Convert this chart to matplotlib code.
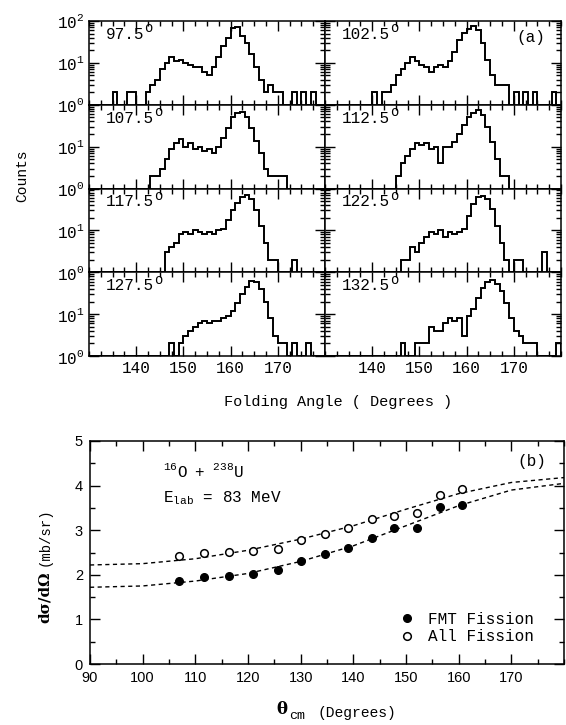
import matplotlib
matplotlib.use("Agg")
import matplotlib.pyplot as plt
from matplotlib.ticker import MultipleLocator, FixedLocator, LogLocator, NullFormatter

MONO = "Liberation Mono"
SANS = "Liberation Sans"
SERIF = "DejaVu Serif"
plt.rcParams["font.family"] = [MONO, "DejaVu Sans"]
plt.rcParams["mathtext.fontset"] = "dejavuserif"

# ---- panel (a): folding-angle spectra, 1-degree bins 130..180 (counts)
BIN_EDGES = list(range(130, 181))
C_975 = [1, 1, 1, 1, 1, 2, 1, 1, 2, 2, 1, 1, 2, 3, 4, 7, 10, 14, 11, 12,
         10, 9, 8, 8, 6, 5, 8, 14, 25, 40, 68, 72, 45, 30, 16, 8, 4, 2, 3, 2,
         2, 1, 1, 2, 1, 2, 1, 2, 1, 1]
C_1025 = [1, 1, 1, 1, 1, 1, 1, 1, 1, 1, 2, 1, 2, 2, 3, 5, 7, 10, 14, 11,
          9, 8, 6, 8, 9, 8, 11, 18, 35, 52, 65, 78, 60, 30, 12, 5, 3, 3, 3, 1,
          2, 1, 2, 1, 2, 1, 1, 1, 2, 1]
C_1075 = [1, 1, 1, 1, 1, 1, 1, 1, 1, 1, 1, 1, 1, 2, 2, 3, 5, 9, 12, 15,
          10, 12, 9, 10, 8, 9, 7, 10, 16, 28, 50, 65, 68, 50, 28, 14, 7, 3, 2, 2,
          2, 2, 1, 1, 1, 1, 1, 1, 1, 1]
C_1125 = [1, 1, 1, 1, 1, 1, 1, 1, 1, 1, 1, 1, 1, 1, 1, 2, 4, 6, 9, 12,
          11, 12, 9, 10, 4, 10, 10, 13, 20, 32, 50, 65, 74, 58, 30, 13, 5, 2, 2, 1,
          1, 1, 1, 1, 1, 1, 1, 1, 1, 1]
C_1175 = [1, 1, 1, 1, 1, 1, 1, 1, 1, 1, 1, 1, 1, 1, 1, 1, 3, 4, 5, 8,
          9, 8, 10, 9, 8, 9, 8, 10, 11, 18, 30, 45, 62, 70, 55, 30, 13, 5, 2, 2,
          1, 1, 1, 2, 1, 1, 1, 1, 1, 1]
C_1225 = [1, 1, 1, 1, 1, 1, 1, 1, 1, 1, 1, 1, 1, 1, 1, 1, 2, 2, 4, 3,
          5, 7, 9, 8, 10, 7, 9, 8, 9, 11, 22, 42, 62, 66, 56, 32, 13, 5, 2, 1,
          2, 2, 1, 1, 1, 1, 3, 1, 1, 1]
C_1275 = [1, 1, 1, 1, 1, 1, 1, 1, 1, 1, 1, 1, 1, 1, 1, 1, 1, 2, 1, 2,
          3, 4, 5, 6, 7, 6, 7, 7, 8, 9, 12, 18, 30, 45, 62, 58, 40, 20, 8, 3,
          2, 2, 1, 2, 1, 1, 2, 1, 1, 1]
C_1325 = [1, 1, 1, 1, 1, 1, 1, 1, 1, 1, 1, 1, 1, 1, 1, 1, 2, 1, 1, 2,
          2, 2, 5, 4, 4, 6, 8, 7, 8, 3, 9, 13, 24, 42, 58, 64, 52, 35, 18, 8,
          4, 3, 2, 2, 2, 1, 1, 1, 1, 2]
LEFT_COL = [("97.5", C_975), ("107.5", C_1075), ("117.5", C_1175), ("127.5", C_1275)]
RIGHT_COL = [("102.5", C_1025), ("112.5", C_1125), ("122.5", C_1225), ("132.5", C_1325)]

# ---- panel (b): angular distributions
THETA = [106.9, 111.6, 116.3, 121.0, 125.7, 130.1, 134.6, 139.0, 143.5, 147.8, 152.1, 156.4, 160.7]
ALL_FISSION = [2.43, 2.49, 2.51, 2.53, 2.58, 2.79, 2.92, 3.04, 3.24, 3.31, 3.39, 3.79, 3.92]
FMT_FISSION = [1.86, 1.96, 1.97, 2.01, 2.10, 2.32, 2.46, 2.60, 2.83, 3.04, 3.04, 3.51, 3.56]
FIT_THETA = [90, 100, 110, 120, 130, 140, 150, 160, 170, 180]
ALL_FIT = [2.22, 2.25, 2.36, 2.55, 2.80, 3.10, 3.47, 3.82, 4.07, 4.18]
FMT_FIT = [1.72, 1.75, 1.86, 2.03, 2.30, 2.65, 3.10, 3.55, 3.90, 4.05]

W, H = 566, 725
fig = plt.figure(figsize=(W / 100, H / 100), dpi=100)
gs = fig.add_gridspec(4, 2, left=89 / W, right=561 / W, top=1 - 21 / H, bottom=1 - 356 / H,
                      wspace=0, hspace=0)

for col, panels in enumerate([LEFT_COL, RIGHT_COL]):
    for row, (ang, counts) in enumerate(panels):
        ax = fig.add_subplot(gs[row, col])
        ax.stairs(counts, BIN_EDGES, baseline=1, color="k", lw=1.4)
        ax.set_yscale("log")
        ax.set_xlim(130, 180)
        ax.set_ylim(1, 100)
        ax.xaxis.set_major_locator(FixedLocator([140, 150, 160, 170]))
        ax.xaxis.set_minor_locator(MultipleLocator(2.5))
        ax.yaxis.set_major_locator(FixedLocator([1, 10, 100]))
        ax.yaxis.set_minor_locator(LogLocator(subs=range(2, 10)))
        ax.yaxis.set_minor_formatter(NullFormatter())
        ax.tick_params(which="both", direction="in", top=True, right=True, width=1)
        ax.tick_params(which="major", length=7, labelsize=11.5)
        ax.tick_params(which="minor", length=3.5)
        if row < 3:
            ax.tick_params(labelbottom=False)
        if col == 0:
            labs = [r"$\mathregular{10^0}$", r"$\mathregular{10^1}$", r"$\mathregular{10^2}$"]
            if row > 0:
                labs[2] = ""
            ax.set_yticklabels(labs)
        else:
            ax.tick_params(labelleft=False)
        for s in ax.spines.values():
            s.set_linewidth(1.1)
        ax.text(0.07, 0.93, ang, transform=ax.transAxes, ha="left", va="top", fontsize=11.5)
        ax.annotate("o", (0.07, 0.93), xycoords="axes fraction",
                    xytext=(len(ang) * 6.9 + 0.5, 4), textcoords="offset points",
                    ha="left", va="top", fontsize=10)
        if col == 1 and row == 0:
            ax.text(0.87, 0.80, "(a)", transform=ax.transAxes, ha="center", va="center",
                    fontsize=11.5)

fig.text(22 / W, 1 - 176 / H, "Counts", rotation=90, ha="center", va="center", fontsize=10.5)
fig.text(338 / W, 1 - 402 / H, "Folding Angle ( Degrees )", ha="center", va="center",
         fontsize=11)

# ---- panel (b)
axb = fig.add_axes([90 / W, 1 - 664 / H, (564 - 90) / W, (664 - 441) / H])
axb.plot(FIT_THETA, ALL_FIT, color="k", lw=1.0, ls=(0, (3, 2.5)))
axb.plot(FIT_THETA, FMT_FIT, color="k", lw=1.0, ls=(0, (3, 2.5)))
axb.plot(THETA, FMT_FISSION, "o", ms=5.5, mfc="k", mec="k", ls="none", label="FMT Fission")
axb.plot(THETA, ALL_FISSION, "o", ms=5.5, mfc="white", mec="k", mew=1.1, ls="none",
         label="All Fission")
axb.set_xlim(90, 180)
axb.set_ylim(0, 5)
axb.xaxis.set_major_locator(FixedLocator([90, 100, 110, 120, 130, 140, 150, 160, 170]))
axb.xaxis.set_minor_locator(MultipleLocator(5))
axb.yaxis.set_major_locator(MultipleLocator(1))
axb.yaxis.set_minor_locator(MultipleLocator(0.5))
axb.tick_params(which="both", direction="in", top=True, right=True, width=1)
axb.tick_params(which="major", length=7, labelsize=10.5, pad=5)
axb.tick_params(which="minor", length=3.5)
for lab in axb.get_xticklabels() + axb.get_yticklabels():
    lab.set_family(SANS)
for s in axb.spines.values():
    s.set_linewidth(1.1)

axb.text(0.154, 0.839, r"$\mathregular{^{16}O\ +\ ^{238}U}$", transform=axb.transAxes,
         ha="left", va="baseline", fontsize=11.5)
axb.text(0.154, 0.727, r"$\mathregular{E_{lab}}$ = 83 MeV", transform=axb.transAxes,
         ha="left", va="baseline", fontsize=11.5)
axb.text(0.932, 0.906, "(b)", transform=axb.transAxes, ha="center", va="center", fontsize=11.5)
axb.legend(loc="lower right", bbox_to_anchor=(0.95, 0.06), frameon=False, fontsize=11.5,
           handlelength=1.0, handletextpad=0.8, labelspacing=0.15, borderaxespad=0)

fig.text(45 / W, 1 - 597 / H, "dσ/dΩ", rotation=90, ha="center", va="center",
         fontsize=11, fontweight="bold", family=SERIF)
fig.text(45 / W, 1 - 537 / H, "(mb/sr)", rotation=90, ha="center", va="center",
         fontsize=10)
fig.text(282 / W, 1 - 710 / H, "θ", ha="center", va="center", fontsize=12,
         fontweight="bold", family=SERIF)
fig.text(297 / W, 1 - 716 / H, "cm", ha="center", va="center", fontsize=9.5)
fig.text(318 / W, 1 - 713 / H, "(Degrees)", ha="left", va="center", fontsize=10.5)

fig.savefig("out.png", dpi=100)
